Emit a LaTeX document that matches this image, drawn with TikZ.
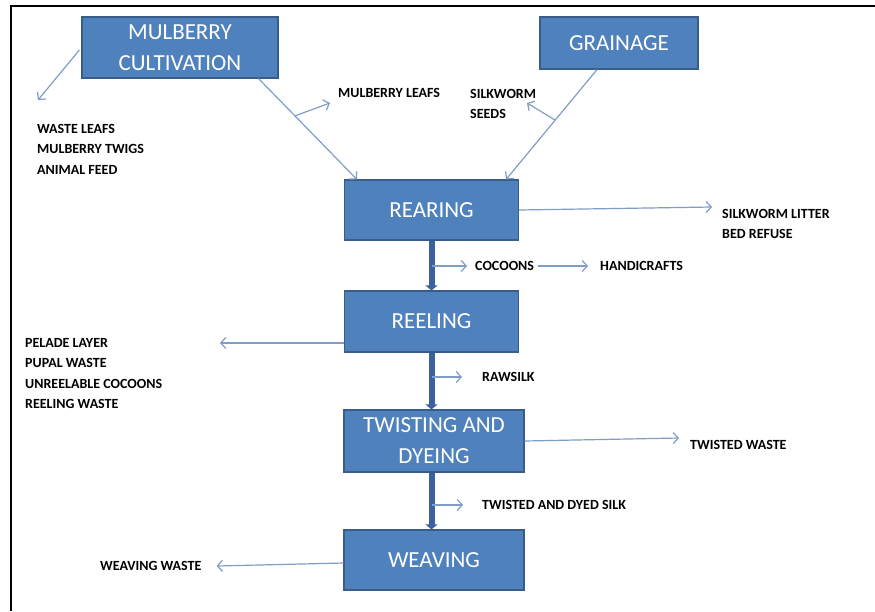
\documentclass[tikz,border=0pt]{standalone}
\usepackage{fontspec}
\setmainfont{Carlito}
\usepackage{tikz}
\usetikzlibrary{arrows.meta}
\usetikzlibrary{positioning}
\usetikzlibrary{calc}

\definecolor{boxblue}{RGB}{79,129,189}
\definecolor{boxedge}{RGB}{56,93,138}
\definecolor{flowline}{RGB}{128,157,198}
\definecolor{mainline}{RGB}{58,98,158}

\begin{document}
\begin{tikzpicture}[x=1pt,y=-1pt]
      \tikzstyle{stage}=[draw=boxedge,fill=boxblue,line width=1.2pt,text=white,align=center,inner sep=0pt,font=\fontsize{23}{31}\selectfont]
      \tikzstyle{waste}=[inner sep=0pt,align=left,font=\fontsize{14}{20.5}\selectfont\bfseries]
      \tikzstyle{flow}=[draw=flowline,line width=1.2pt,-{Straight Barb[length=5pt,width=11pt]}]
      \tikzstyle{mainflow}=[draw=mainline,line width=6pt,-{Triangle[length=5pt,width=12pt]}]

      \useasboundingbox (0,0) rectangle (875,611);
      \draw[line width=2.5pt] (11,611) -- (11,6) -- (875,6);

      % process stages
      \node [stage,minimum width=196pt,minimum height=61pt] at (180,47.5) (mulberry) {MULBERRY\\CULTIVATION};
      \node [stage,minimum width=158pt,minimum height=52pt] at (619,43) (grainage) {GRAINAGE};
      \node [stage,minimum width=174pt,minimum height=60pt] at (431.5,210) (rearing) {REARING};
      \node [stage,minimum width=174pt,minimum height=61pt] at (431.5,321.5) (reeling) {REELING};
      \node [stage,minimum width=180pt,minimum height=62pt] at (434,441) (twisting) {TWISTING AND\\DYEING};
      \node [stage,minimum width=180pt,minimum height=60pt] at (434,560) (weaving) {WEAVING};

      % products and wastes
      \node [waste,anchor=north west] at (37,124) (leafwaste) {WASTE LEAFS\\MULBERRY TWIGS\\ANIMAL FEED};
      \node [waste,anchor=west] at (338,93) (leafs) {MULBERRY LEAFS};
      \node [waste,anchor=north west] at (470,89) (seeds) {SILKWORM\\SEEDS};
      \node [waste,anchor=north west] at (722,209) (litter) {SILKWORM LITTER\\BED REFUSE};
      \node [waste,anchor=west] at (475,266) (cocoons) {COCOONS};
      \node [waste,anchor=west] at (600,266) (crafts) {HANDICRAFTS};
      \node [waste,anchor=north west] at (25,338) (reelwaste) {PELADE LAYER\\PUPAL WASTE\\UNREELABLE COCOONS\\REELING WASTE};
      \node [waste,anchor=west] at (482,377) (rawsilk) {RAWSILK};
      \node [waste,anchor=west] at (690,445) (twistwaste) {TWISTED WASTE};
      \node [waste,anchor=west] at (482,505) (dyedsilk) {TWISTED AND DYED SILK};
      \node [waste,anchor=west] at (100,566) (weavewaste) {WEAVING WASTE};

      \coordinate (leaftip) at (38,100);
      \coordinate (seedtip) at (527,103);
      \coordinate (leafarrow) at (330,103);
      \coordinate (peladetip) at (220,343);

      % inputs into rearing
      \draw [flow] ([xshift=-2pt,yshift=-2.5pt]mulberry.west) -- (leaftip);
      \draw [flow] ([xshift=-20pt]mulberry.south east) -- coordinate[pos=.37] (leaffork) ([xshift=13pt]rearing.north west);
      \draw [flow] (leaffork) -- (leafarrow);
      \draw [flow] ([xshift=-22pt]grainage.south) -- coordinate[pos=.46] (seedfork) ([xshift=-13pt]rearing.north east);
      \draw [flow] (seedfork) -- (seedtip);

      % main line
      \draw [mainflow] (rearing) -- (reeling);
      \draw [mainflow] (reeling.south) -- (reeling.south |- twisting.north);
      \draw [mainflow] (twisting.south -| reeling.south) -- (weaving.north -| reeling.south);

      % side outputs
      \draw [flow] (rearing.east) -- ([xshift=-10pt,yshift=2pt]litter.north west);
      \draw [flow] (reeling.south |- cocoons.west) -- ([xshift=-8pt]cocoons.west);
      \draw [flow] ([xshift=4pt]cocoons.east) -- ([xshift=-12pt]crafts.west);
      \draw [flow] ([yshift=-21.5pt]reeling.west) -- (peladetip);
      \draw [flow] (reeling.south |- rawsilk.west) -- ([xshift=-20pt]rawsilk.west);
      \draw [flow] (twisting.east) -- ([xshift=-11pt,yshift=7pt]twistwaste.west);
      \draw [flow] (reeling.south |- dyedsilk.west) -- ([xshift=-19pt]dyedsilk.west);
      \draw [flow] ([yshift=-3pt]weaving.west) -- ([xshift=15pt]weavewaste.east);
\end{tikzpicture}
\end{document}
